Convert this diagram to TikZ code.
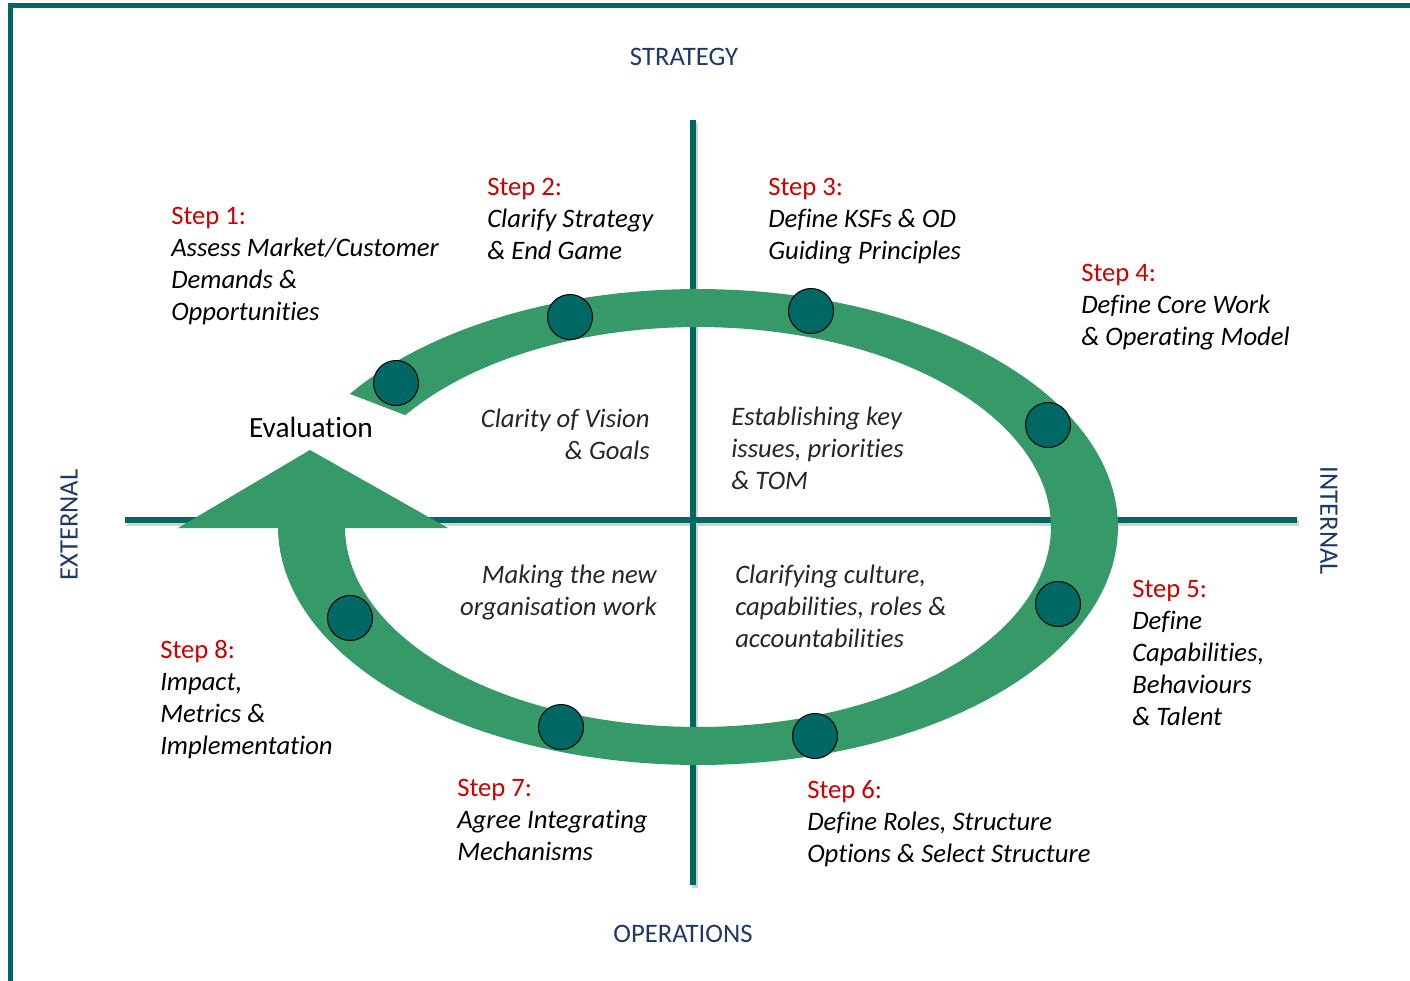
\documentclass[tikz,border=0pt]{standalone}
\usepackage{fontspec}
\setmainfont{Carlito}[Ligatures=NoCommon]
\definecolor{teal0}{RGB}{0,104,100}
\definecolor{bandgreen}{RGB}{54,153,104}
\definecolor{navy}{RGB}{31,56,100}
\definecolor{stepred}{RGB}{204,0,0}
\definecolor{quadgray}{RGB}{38,38,38}
\begin{document}
\begin{tikzpicture}[x=0.75pt,y=-0.75pt,
  frameline/.style={draw=teal0,line width=3.75pt},
  axisline/.style={draw=teal0,line width=4.5pt},
  axisshadow/.style={draw=black!18,line width=4.5pt},
  band/.style={fill=bandgreen},
  dot/.style={circle,fill=teal0,draw=black,line width=0.75pt,minimum size=33.75pt,inner sep=0pt},
  steptext/.style={font=\fontsize{20pt}{24pt}\selectfont\itshape,align=left,inner sep=0pt,anchor=base west,text=black},
  quadtext/.style={font=\fontsize{20pt}{24pt}\selectfont\itshape,inner sep=0pt,text=quadgray},
  dirtext/.style={font=\fontsize{20pt}{24pt}\selectfont,inner sep=0pt,text=navy},
  steplbl/.style={text=stepred}
]
\useasboundingbox (0,0) rectangle (1410,981);
\clip (0,0) rectangle (1410,981);
% frame
\draw[frameline] (10,1000) -- (10,6) -- (1430,6);
% axes
\coordinate (vt) at (693,120);
\coordinate (vb) at (693,885);
\coordinate (hl) at (125,520);
\coordinate (hr) at (1297,520);
\draw[axisshadow] ([shift={(2,3)}]vt) -- ([shift={(2,3)}]vb);
\draw[axisshadow] ([shift={(2,3)}]hl) -- ([shift={(2,3)}]hr);
\draw[axisline] (vt) -- (vb);
\draw[axisline] (hl) -- (hr);
% band with arrow
\fill[band] plot[domain=-146:180,samples=160] ({698+420*cos(\x)},{527+238*sin(\x)})
  -- (278,528) -- (178,528) -- (310,450) -- (448,528) -- (345,528)
  -- plot[domain=180:-146,samples=160] ({698+353*cos(\x)},{527+200*sin(\x)}) -- cycle;
% dots
\node[dot] (d1) at (396,383) {};
\node[dot] (d2) at (570,317) {};
\node[dot] (d3) at (811,311) {};
\node[dot] (d4) at (1048,425) {};
\node[dot] (d5) at (1058,604) {};
\node[dot] (d6) at (815,736) {};
\node[dot] (d7) at (561,727) {};
\node[dot] (d8) at (350,618) {};
% direction labels
\node[dirtext,anchor=base] (strat) at (684,66) {STRATEGY};
\node[dirtext,anchor=base] (oper) at (683,942) {OPERATIONS};
\node[dirtext,rotate=90] (ext) at (69,525) {EXTERNAL};
\node[dirtext,rotate=-90] (int) at (1329,521) {INTERNAL};
\node[font=\fontsize{22pt}{26pt}\selectfont,inner sep=0pt,anchor=base,text=black] (eval) at (311,437) {Evaluation};
% steps (anchor = baseline of last line)
\node[steptext] (t1) at (171,320) {\textup{\textcolor{stepred}{Step 1:}}\\Assess Market/Customer\\Demands \&\\Opportunities};
\node[steptext] (t2) at (487,259) {\textup{\textcolor{stepred}{Step 2:}}\\Clarify Strategy\\\& End Game};
\node[steptext] (t3) at (768,259) {\textup{\textcolor{stepred}{Step 3:}}\\Define KSFs \& OD\\Guiding Principles};
\node[steptext] (t4) at (1081,345) {\textup{\textcolor{stepred}{Step 4:}}\\Define Core Work\\\& Operating Model};
\node[steptext] (t5) at (1132,725) {\textup{\textcolor{stepred}{Step 5:}}\\Define\\Capabilities,\\Behaviours\\\& Talent};
\node[steptext] (t6) at (807,862) {\textup{\textcolor{stepred}{Step 6:}}\\Define Roles, Structure\\Options \& Select Structure};
\node[steptext] (t7) at (457,860) {\textup{\textcolor{stepred}{Step 7:}}\\Agree Integrating\\Mechanisms};
\node[steptext] (t8) at (160,754) {\textup{\textcolor{stepred}{Step 8:}}\\Impact,\\Metrics \&\\Implementation};
% quadrant texts
\node[quadtext,align=right,anchor=base east] (q1) at (650,459) {Clarity of Vision\\\& Goals};
\node[quadtext,align=left,anchor=base west] (q2) at (731,489) {Establishing key\\issues, priorities\\\& TOM};
\node[quadtext,align=right,anchor=base east] (q3) at (657,615) {Making the new\\organisation work};
\node[quadtext,align=left,anchor=base west] (q4) at (735,647) {Clarifying culture,\\capabilities, roles \&\\accountabilities};
\end{tikzpicture}
\end{document}
